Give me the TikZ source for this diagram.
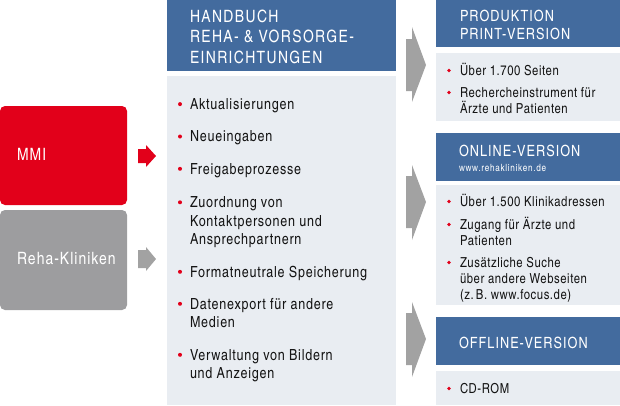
\documentclass[tikz,border=0pt]{standalone}
\usepackage{fontspec}
\setmainfont{texgyreheroscn}[Extension=.otf,UprightFont=*-regular,BoldFont=*-bold,ItalicFont=*-italic,BoldItalicFont=*-bolditalic]
\usetikzlibrary{calc}
\definecolor{mmired}{HTML}{E2001A}
\definecolor{hdrblue}{HTML}{436B9E}
\definecolor{bodybg}{HTML}{E9EDF2}
\definecolor{boxgray}{HTML}{9D9D9F}
\definecolor{arrgray}{HTML}{A2A2A2}
\newcommand\fl{\rule{0pt}{17pt}}
\newcommand\mhfont{\fontsize{17}{20.2}\selectfont\addfontfeatures{LetterSpace=8}}
\newcommand\rhfont{\fontsize{15.5}{17.8}\selectfont\addfontfeatures{LetterSpace=6.5}}
\newcommand\urlfont{\fontsize{10}{11}\selectfont\addfontfeatures{LetterSpace=7}}
\newcommand\mbfont{\fontsize{15.3}{18.5}\selectfont\addfontfeatures{LetterSpace=5}}
\newcommand\rbfont{\fontsize{13.8}{16}\selectfont\addfontfeatures{LetterSpace=4}}
\newcommand\srcfont{\fontsize{17}{20}\selectfont\addfontfeatures{LetterSpace=6}}
\tikzset{
  panel/.style={inner sep=0pt, outer sep=0pt, anchor=north west, draw=none},
  txt/.style={inner sep=0pt, outer sep=0pt, anchor=north west, align=left},
  mhead/.style={txt, text=white, font=\mhfont},
  rhead/.style={txt, text=white, font=\rhfont},
  mitem/.style={txt, text=black!92, font=\mbfont},
  ritem/.style={txt, text=black!92, font=\rbfont},
  srctxt/.style={txt, text=white, font=\srcfont},
}
\newcommand\mbul[1]{\fill[mmired] ($(#1.north west)+(-10,11.8)$) circle (2pt);}
\newcommand\rbul[1]{\fill[mmired] ($(#1.north west)+(-11,12.5)$) circle (1.9pt);}
\begin{document}
\begin{tikzpicture}[x=1pt,y=-1pt]
\useasboundingbox (0,0) rectangle (620,405);
% source boxes
\node[panel, fill=mmired, rounded corners=5pt, minimum width=127pt, minimum height=99pt] (mmi) at (0,106) {};
\node[panel, fill=boxgray, rounded corners=5pt, minimum width=127pt, minimum height=100pt] (reha) at (0,210) {};
\node[srctxt] (mmitxt) at (17,160-17) {\fl MMI};
\node[srctxt] (rehatxt) at (17,264-17) {\fl Reha-Kliniken};
% small arrows
\fill[mmired] (138,149) -- (146,149) -- (146,145) -- (156,156) -- (146,167) -- (146,163) -- (138,163) -- cycle;
\fill[arrgray] (138,250) -- (146,250) -- (146,247) -- (156,259) -- (146,271) -- (146,268) -- (138,268) -- cycle;
% middle column
\node[panel, fill=hdrblue, minimum width=229pt, minimum height=71pt] (mhdr) at (167,0) {};
\node[panel, fill=bodybg, minimum width=229pt, minimum height=329pt] (mbody) at (167,76) {};
\node[mhead] (mhtxt) at (190,22.7-17) {\fl HANDBUCH\\REHA- \& VORSORGE-\\EINRICHTUNGEN};
\node[mitem] (m1) at (190,109.3-17) {\fl Aktualisierungen};
\node[mitem] (m2) at (190,141.7-17) {\fl Neueingaben};
\node[mitem] (m3) at (190,174-17) {\fl Freigabeprozesse};
\node[mitem] (m4) at (190,207.5-17) {\fl Zuordnung von\\Kontaktpersonen und\\Ansprechpartnern};
\node[mitem] (m5) at (190,277-17) {\fl Formatneutrale Speicherung};
\node[mitem] (m6) at (190,309-17) {\fl Datenexport für andere\\Medien};
\node[mitem] (m7) at (190,360-17) {\fl Verwaltung von Bildern\\und Anzeigen};
\foreach \n in {m1,m2,m3,m4,m5,m6,m7} {\mbul{\n}}
% big arrows
\foreach \t/\b/\m in {27/102/65, 165/240/202, 302/377/339} {
  \fill[arrgray] (406,\m-26) -- (412,\m-26) -- (412,\t) -- (426,\m) -- (412,\b) -- (412,\m+26) -- (406,\m+26) -- cycle;
}
% right column
\node[panel, fill=hdrblue, minimum width=184pt, minimum height=47pt] (phdr) at (436,0) {};
\node[panel, fill=bodybg, minimum width=184pt, minimum height=68pt] (pbody) at (436,53) {};
\node[panel, fill=hdrblue, minimum width=184pt, minimum height=48pt] (ohdr) at (436,133) {};
\node[panel, fill=bodybg, minimum width=184pt, minimum height=120pt] (obody) at (436,185) {};
\node[panel, fill=hdrblue, minimum width=184pt, minimum height=48pt] (fhdr) at (436,317) {};
\node[panel, fill=bodybg, minimum width=184pt, minimum height=34pt] (fbody) at (436,371) {};
\node[rhead] (phtxt) at (460,21.7-17) {\fl PRODUKTION\\PRINT-VERSION};
\node[rhead] (ohtxt) at (459,156.7-17) {\fl ONLINE-VERSION};
\node[txt, text=white, font=\urlfont] (ourl) at (459,171.5-10) {\rule{0pt}{10pt}www.rehakliniken.de};
\node[rhead] (fhtxt) at (459,348-17) {\fl OFFLINE-VERSION};
\node[ritem] (p1) at (460,75-17) {\fl Über 1.700 Seiten};
\node[ritem] (p2) at (460,97-17) {\fl Rechercheinstrument für\\Ärzte und Patienten};
\node[ritem] (o1) at (460,206-17) {\fl Über 1.500 Klinikadressen};
\node[ritem] (o2) at (460,229-17) {\fl Zugang für Ärzte und\\Patienten};
\node[ritem] (o3) at (460,267-17) {\fl Zusätzliche Suche\\über andere Webseiten\\(z.\,B. www.focus.de)};
\node[ritem] (f1) at (460,393-17) {\fl CD-ROM};
\foreach \n in {p1,p2,o1,o2,o3,f1} {\rbul{\n}}
\end{tikzpicture}
\end{document}
